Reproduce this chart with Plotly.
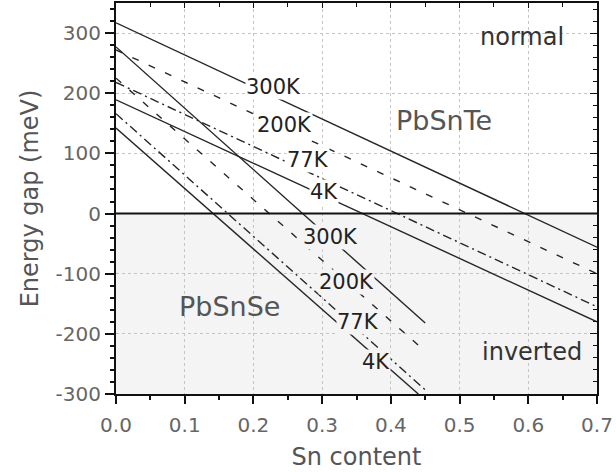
import plotly.graph_objects as go

# Sn content axis endpoints for each alloy family
te_x = [0.0, 0.7]
se_x = [0.0, 0.45]
se4_x = [0.0, 0.44]

# Energy gap (meV) of Pb(1-x)Sn(x)Te at the two ends of the composition range
te_300k = [317, -56]
te_200k = [272, -100]
te_77k = [218, -155]
te_4k = [189, -180]

# Energy gap (meV) of Pb(1-x)Sn(x)Se
se_300k = [277, -182]
se_200k = [225, -229]
se_77k = [166, -293]
se_4k = [142, -300]

x_ticks = [0.0, 0.1, 0.2, 0.3, 0.4, 0.5, 0.6, 0.7]
x_tick_text = ["0.0", "0.1", "0.2", "0.3", "0.4", "0.5", "0.6", "0.7"]
y_ticks = [-300, -200, -100, 0, 100, 200, 300]
y_tick_text = ["-300", "-200", "-100", "0", "100", "200", "300"]

temp_labels = ["300K", "200K", "77K", "4K"]
te_label_x = [0.229, 0.245, 0.280, 0.303]
te_label_y = [211, 147, 89, 36]
se_label_x = [0.312, 0.335, 0.352, 0.378]
se_label_y = [-39, -114, -180, -247]

FONT = "DejaVu Sans"
LINE = "#262626"
SHADE = "#f4f4f4"
DASH = "7px,11px"
DASHDOT = "9px,4px,2px,4px"

fig = go.Figure()

series = [
    (te_x, te_300k, "solid"),
    (te_x, te_200k, DASH),
    (te_x, te_77k, DASHDOT),
    (te_x, te_4k, "solid"),
    (se_x, se_300k, "solid"),
    (se_x, se_200k, DASH),
    (se_x, se_77k, DASHDOT),
    (se4_x, se_4k, "solid"),
]
for xs, ys, dash in series:
    fig.add_trace(go.Scatter(
        x=xs, y=ys, mode="lines",
        line=dict(color=LINE, width=1.4, dash=dash),
        showlegend=False, hoverinfo="skip",
    ))

# empty trace so the mirrored top/right axes are drawn
fig.add_trace(go.Scatter(x=[None], y=[None], xaxis="x2", yaxis="y2",
                         showlegend=False, hoverinfo="skip"))

# inverted-band region below zero
fig.add_shape(type="rect", xref="x", yref="y", x0=0, x1=0.7, y0=-300, y1=0,
              fillcolor=SHADE, line=dict(width=0), layer="below")
fig.add_shape(type="line", xref="x", yref="y", x0=0, x1=0.7, y0=0, y1=0,
              line=dict(color="#111111", width=2), layer="above")

annotations = []
for txt, lx, ly in zip(temp_labels, te_label_x, te_label_y):
    annotations.append(dict(x=lx, y=ly, text=txt, showarrow=False,
                            font=dict(family=FONT, size=21, color="#222222"),
                            bgcolor="white" if ly > 8 else SHADE, borderpad=0))
for txt, lx, ly in zip(temp_labels, se_label_x, se_label_y):
    annotations.append(dict(x=lx, y=ly, text=txt, showarrow=False,
                            font=dict(family=FONT, size=21, color="#222222"),
                            bgcolor=SHADE, borderpad=0))
annotations += [
    dict(x=0.478, y=155, text="PbSnTe", showarrow=False,
         font=dict(family=FONT, size=27, color="#555555")),
    dict(x=0.165, y=-154, text="PbSnSe", showarrow=False,
         font=dict(family=FONT, size=27, color="#555555")),
    dict(x=0.591, y=293, text="normal", showarrow=False,
         font=dict(family=FONT, size=24, color="#333333")),
    dict(x=0.606, y=-230, text="inverted", showarrow=False,
         font=dict(family=FONT, size=24, color="#333333")),
]

grid = dict(showgrid=True, gridcolor="#c4c4c4", gridwidth=1, griddash="3px,3px")

fig.update_layout(
    width=616, height=472,
    margin=dict(l=116, r=16, t=3, b=78),
    plot_bgcolor="white", paper_bgcolor="white",
    font=dict(family=FONT, color="#555555"),
    annotations=annotations,
    xaxis=dict(
        range=[0, 0.7], tickvals=x_ticks, ticktext=x_tick_text,
        ticks="outside", ticklen=8, tickwidth=1.5, tickcolor="#111111",
        minor=dict(dtick=0.05, ticks="outside", ticklen=4, tickcolor="#111111", showgrid=False),
        showline=True, linecolor="#111111", linewidth=2, zeroline=False,
        tickfont=dict(family=FONT, size=20, color="#666666"),
        ticklabelstandoff=4,
        title=dict(text="Sn content", font=dict(family=FONT, size=24, color="#555555"), standoff=12),
        **grid,
    ),
    yaxis=dict(
        range=[-300, 350], tickvals=y_ticks, ticktext=y_tick_text,
        ticks="outside", ticklen=9, tickwidth=1.5, tickcolor="#111111",
        minor=dict(dtick=20, ticks="outside", ticklen=4, tickcolor="#111111", showgrid=False),
        showline=True, linecolor="#111111", linewidth=2, zeroline=False,
        tickfont=dict(family=FONT, size=20, color="#666666"),
        title=dict(text="Energy gap (meV)", font=dict(family=FONT, size=24, color="#555555"), standoff=10),
        **grid,
    ),
    xaxis2=dict(
        overlaying="x", side="top", range=[0, 0.7], tickvals=x_ticks,
        showticklabels=False, ticks="inside", ticklen=5, tickcolor="#111111",
        minor=dict(dtick=0.05, ticks="inside", ticklen=4, tickcolor="#111111"),
        showline=True, linecolor="#111111", linewidth=2, showgrid=False, zeroline=False,
    ),
    yaxis2=dict(
        overlaying="y", side="right", range=[-300, 350], tickvals=y_ticks,
        showticklabels=False, ticks="inside", ticklen=7, tickcolor="#111111",
        minor=dict(dtick=20, ticks="inside", ticklen=4, tickcolor="#111111"),
        showline=True, linecolor="#111111", linewidth=2, showgrid=False, zeroline=False,
    ),
)

fig.write_html("out.html")
